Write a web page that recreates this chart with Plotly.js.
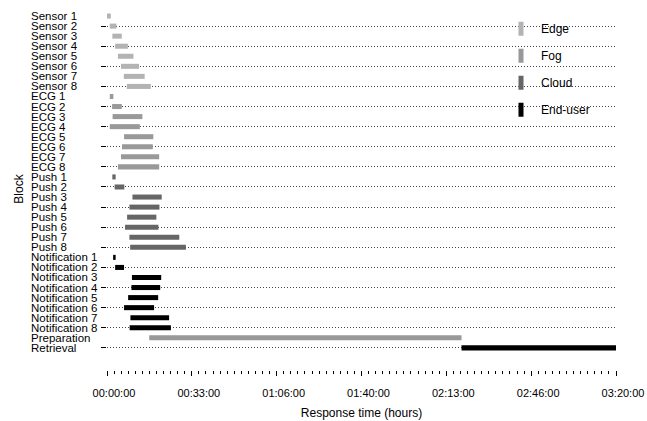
<!DOCTYPE html>
<html>
<head>
<meta charset="utf-8">
<script src="https://cdn.plot.ly/plotly-3.0.1.min.js"></script>
<style>html,body{margin:0;padding:0;background:#fff;}#chart{width:647px;height:421px;}</style>
</head>
<body>
<div id="chart"></div>
<script>
// ---- data (minutes) ----
const blocks = ["Sensor 1","Sensor 2","Sensor 3","Sensor 4","Sensor 5","Sensor 6","Sensor 7","Sensor 8",
  "ECG 1","ECG 2","ECG 3","ECG 4","ECG 5","ECG 6","ECG 7","ECG 8",
  "Push 1","Push 2","Push 3","Push 4","Push 5","Push 6","Push 7","Push 8",
  "Notification 1","Notification 2","Notification 3","Notification 4","Notification 5","Notification 6","Notification 7","Notification 8",
  "Preparation","Retrieval"];
const startMin = [0, 1.1, 2.1, 3.2, 4.3, 5.5, 6.6, 7.8,
  1.1, 2.0, 2.2, 1.1, 6.7, 5.9, 5.5, 4.3,
  2.1, 3.0, 10.0, 8.8, 7.9, 7.1, 8.8, 9.1,
  2.4, 3.2, 9.8, 9.6, 8.3, 6.7, 9.2, 8.9,
  16.6, 139.3];
const endMin = [1.5, 3.7, 5.8, 8.2, 10.4, 12.6, 14.8, 17.2,
  2.5, 5.8, 13.9, 12.9, 18.2, 18.0, 20.5, 20.5,
  3.4, 6.8, 21.5, 20.6, 19.4, 20.2, 28.4, 31.0,
  3.4, 6.7, 21.3, 20.9, 20.1, 18.5, 24.4, 25.1,
  139.3, 200];
const blockLayer = ["Edge","Edge","Edge","Edge","Edge","Edge","Edge","Edge",
  "Fog","Fog","Fog","Fog","Fog","Fog","Fog","Fog",
  "Cloud","Cloud","Cloud","Cloud","Cloud","Cloud","Cloud","Cloud",
  "End-user","End-user","End-user","End-user","End-user","End-user","End-user","End-user",
  "Fog","End-user"];
const layers = ["Edge","Fog","Cloud","End-user"];
const tickLabels = ["00:00:00","00:33:00","01:06:00","01:40:00","02:13:00","02:46:00","03:20:00"];
const xMax = 200;

// ---- style ----
const layerColors = {"Edge":"#b3b3b3","Fog":"#999999","Cloud":"#666666","End-user":"#000000"};
const FONT = "Liberation Sans, Arial, Helvetica, sans-serif";

const barTraces = layers.map(function(L){
  const idx = blocks.map(function(_, i){return i;}).filter(function(i){return blockLayer[i] === L;});
  return {
    type: "bar", orientation: "h", name: L,
    y: idx.map(function(i){return blocks[i];}),
    base: idx.map(function(i){return startMin[i];}),
    x: idx.map(function(i){return endMin[i] - startMin[i];}),
    width: 0.5,
    marker: {color: layerColors[L], line: {width: 0}},
    legendgroup: L, showlegend: false,
    hoverinfo: "y+x"
  };
});
// legend keys (narrow blocks, like the reference)
const legendTraces = layers.map(function(L){
  return {
    type: "scatter", mode: "markers", name: L, x: [null], y: [null],
    marker: {symbol: "line-ns", size: 10, color: layerColors[L], line: {width: 5, color: layerColors[L]}},
    legendgroup: L, showlegend: true, hoverinfo: "skip"
  };
});

const tickVals = tickLabels.map(function(_, i){return i * xMax / (tickLabels.length - 1);});

const L_PX = 107, R_PX = 616, W = 647;
const annotations = blocks.map(function(b){
  return {xref: "paper", yref: "y", x: (29 - L_PX) / (R_PX - L_PX), y: b, xanchor: "left", yanchor: "middle",
    text: b, showarrow: false, font: {family: FONT, size: 11.5, color: "#000"}};
});

const layout = {
  width: 647, height: 421,
  margin: {l: L_PX, r: W - R_PX, t: 8, b: 51},
  paper_bgcolor: "#fff", plot_bgcolor: "#fff",
  font: {family: FONT, size: 12, color: "#000"},
  barmode: "overlay",
  showlegend: true,
  legend: {x: (501 - L_PX) / (R_PX - L_PX), y: 0.983, xanchor: "left", yanchor: "top",
    bgcolor: "rgba(0,0,0,0)", borderwidth: 0, tracegroupgap: 8, font: {family: FONT, size: 12, color: "#000"},
    traceorder: "grouped"},
  xaxis: {
    range: [0, xMax], showgrid: false, zeroline: false, showline: false,
    tickmode: "array", tickvals: tickVals, ticktext: tickLabels,
    ticks: "outside", ticklen: 5, tickwidth: 1, tickcolor: "#000",
    ticklabelshift: 7, ticklabelstandoff: 8,
    tickfont: {family: FONT, size: 11, color: "#000"},
    minor: {tickmode: "linear", tick0: 0, dtick: xMax / 72, ticks: "outside", ticklen: 3, tickwidth: 1, tickcolor: "#000", showgrid: false},
    title: {text: "Response time (hours)", font: {family: FONT, size: 12, color: "#000"}, standoff: 10},
    automargin: false, fixedrange: true
  },
  yaxis: {
    type: "category", categoryorder: "array", categoryarray: blocks,
    range: [35.2, -0.8], showticklabels: false,
    ticks: "outside", ticklen: 5, tickwidth: 1, tickcolor: "#000",
    showgrid: true, gridcolor: "#444", griddash: "1px,2px", gridwidth: 1,
    zeroline: false, showline: false,
    title: {text: "Block", font: {family: FONT, size: 12, color: "#000"}, standoff: 74},
    automargin: false, fixedrange: true
  },
  annotations: annotations
};

Plotly.newPlot("chart", barTraces.concat(legendTraces), layout, {displayModeBar: false, staticPlot: true});
</script>
</body>
</html>
